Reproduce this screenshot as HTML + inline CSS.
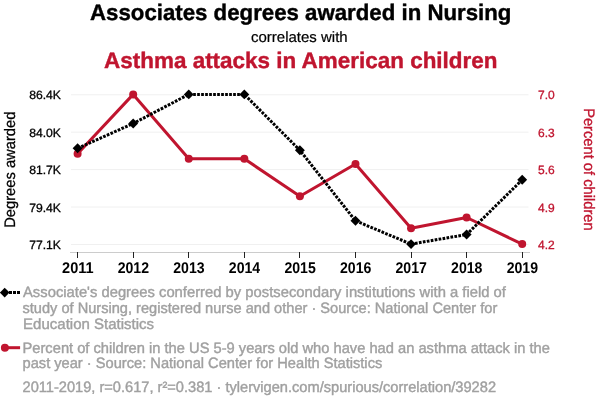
<!DOCTYPE html>
<html><head><meta charset="utf-8"><style>
html,body{margin:0;padding:0;background:#fff;width:600px;height:408px;overflow:hidden}
svg{display:block;will-change:transform}
text{font-family:"Liberation Sans", sans-serif;text-rendering:geometricPrecision}
</style></head><body>
<svg width="600" height="408" viewBox="0 0 600 408">
<rect width="600" height="408" fill="#fff"/>
<line x1="71" x2="528.5" y1="94.75" y2="94.75" stroke="#f0f0f0" stroke-width="1"/>
<line x1="71" x2="528.5" y1="132.17" y2="132.17" stroke="#f0f0f0" stroke-width="1"/>
<line x1="71" x2="528.5" y1="169.60" y2="169.60" stroke="#f0f0f0" stroke-width="1"/>
<line x1="71" x2="528.5" y1="207.03" y2="207.03" stroke="#f0f0f0" stroke-width="1"/>
<line x1="71" x2="528.5" y1="244.45" y2="244.45" stroke="#f0f0f0" stroke-width="1"/>
<line x1="70" x2="530" y1="252.5" y2="252.5" stroke="#cccccc" stroke-width="1"/>
<line x1="77.50" x2="77.50" y1="252" y2="258" stroke="#222" stroke-width="1"/>
<text x="62.06" y="273.00" font-size="15.5" font-weight="bold" textLength="31.54" lengthAdjust="spacingAndGlyphs" fill="#000" >2011</text>
<line x1="133.50" x2="133.50" y1="252" y2="258" stroke="#222" stroke-width="1"/>
<text x="117.67" y="273.00" font-size="15.5" font-weight="bold" textLength="31.35" lengthAdjust="spacingAndGlyphs" fill="#000" >2012</text>
<line x1="188.50" x2="188.50" y1="252" y2="258" stroke="#222" stroke-width="1"/>
<text x="173.24" y="273.00" font-size="15.5" font-weight="bold" textLength="31.35" lengthAdjust="spacingAndGlyphs" fill="#000" >2013</text>
<line x1="244.50" x2="244.50" y1="252" y2="258" stroke="#222" stroke-width="1"/>
<text x="228.82" y="273.00" font-size="15.5" font-weight="bold" textLength="31.35" lengthAdjust="spacingAndGlyphs" fill="#000" >2014</text>
<line x1="299.50" x2="299.50" y1="252" y2="258" stroke="#222" stroke-width="1"/>
<text x="284.39" y="273.00" font-size="15.5" font-weight="bold" textLength="31.35" lengthAdjust="spacingAndGlyphs" fill="#000" >2015</text>
<line x1="355.50" x2="355.50" y1="252" y2="258" stroke="#222" stroke-width="1"/>
<text x="339.97" y="273.00" font-size="15.5" font-weight="bold" textLength="31.35" lengthAdjust="spacingAndGlyphs" fill="#000" >2016</text>
<line x1="411.50" x2="411.50" y1="252" y2="258" stroke="#222" stroke-width="1"/>
<text x="395.54" y="273.00" font-size="15.5" font-weight="bold" textLength="31.35" lengthAdjust="spacingAndGlyphs" fill="#000" >2017</text>
<line x1="466.50" x2="466.50" y1="252" y2="258" stroke="#222" stroke-width="1"/>
<text x="451.12" y="273.00" font-size="15.5" font-weight="bold" textLength="31.35" lengthAdjust="spacingAndGlyphs" fill="#000" >2018</text>
<line x1="522.50" x2="522.50" y1="252" y2="258" stroke="#222" stroke-width="1"/>
<text x="506.69" y="273.00" font-size="15.5" font-weight="bold" textLength="31.35" lengthAdjust="spacingAndGlyphs" fill="#000" >2019</text>
<text x="61" y="98.70" font-size="12" text-anchor="end" fill="#000" textLength="31.8" lengthAdjust="spacingAndGlyphs" stroke="#000" stroke-width="0.3">86.4K</text>
<text x="538" y="98.70" font-size="12" text-anchor="start" fill="#c0152f" stroke="#c0152f" stroke-width="0.3">7.0</text>
<text x="61" y="136.92" font-size="12" text-anchor="end" fill="#000" textLength="31.8" lengthAdjust="spacingAndGlyphs" stroke="#000" stroke-width="0.3">84.0K</text>
<text x="538" y="136.92" font-size="12" text-anchor="start" fill="#c0152f" stroke="#c0152f" stroke-width="0.3">6.3</text>
<text x="61" y="173.55" font-size="12" text-anchor="end" fill="#000" textLength="31.8" lengthAdjust="spacingAndGlyphs" stroke="#000" stroke-width="0.3">81.7K</text>
<text x="538" y="173.55" font-size="12" text-anchor="start" fill="#c0152f" stroke="#c0152f" stroke-width="0.3">5.6</text>
<text x="61" y="211.58" font-size="12" text-anchor="end" fill="#000" textLength="31.8" lengthAdjust="spacingAndGlyphs" stroke="#000" stroke-width="0.3">79.4K</text>
<text x="538" y="211.58" font-size="12" text-anchor="start" fill="#c0152f" stroke="#c0152f" stroke-width="0.3">4.9</text>
<text x="61" y="248.60" font-size="12" text-anchor="end" fill="#000" textLength="31.8" lengthAdjust="spacingAndGlyphs" stroke="#000" stroke-width="0.3">77.1K</text>
<text x="538" y="248.60" font-size="12" text-anchor="start" fill="#c0152f" stroke="#c0152f" stroke-width="0.3">4.2</text>
<text transform="translate(14.70,227.77) rotate(-90)" x="0" y="0" font-size="15.2" textLength="116.13" lengthAdjust="spacingAndGlyphs" fill="#000" stroke="#000" stroke-width="0.3">Degrees awarded</text>
<text transform="translate(584.10,108.13) rotate(90)" x="0" y="0" font-size="15.2" textLength="122.49" lengthAdjust="spacingAndGlyphs" fill="#c0152f" stroke="#c0152f" stroke-width="0.3">Percent of children</text>
<polyline points="77.60,153.70 133.18,94.40 188.75,158.80 244.33,158.80 299.90,196.30 355.48,164.05 411.05,228.30 466.62,217.50 522.20,244.10" fill="none" stroke="#c0152f" stroke-width="3" stroke-linejoin="round"/>
<circle cx="77.60" cy="153.70" r="4" fill="#c0152f"/>
<circle cx="133.18" cy="94.40" r="4" fill="#c0152f"/>
<circle cx="188.75" cy="158.80" r="4" fill="#c0152f"/>
<circle cx="244.33" cy="158.80" r="4" fill="#c0152f"/>
<circle cx="299.90" cy="196.30" r="4" fill="#c0152f"/>
<circle cx="355.48" cy="164.05" r="4" fill="#c0152f"/>
<circle cx="411.05" cy="228.30" r="4" fill="#c0152f"/>
<circle cx="466.62" cy="217.50" r="4" fill="#c0152f"/>
<circle cx="522.20" cy="244.10" r="4" fill="#c0152f"/>
<polyline points="77.60,148.30 133.18,123.50 188.75,94.40 244.33,94.40 299.90,150.30 355.48,220.80 411.05,244.10 466.62,234.50 522.20,179.80" fill="none" stroke="#000" stroke-width="3" stroke-dasharray="2.7 1.3"/>
<rect x="74.10" y="144.80" width="7" height="7" fill="#000" transform="rotate(45 77.60 148.30)"/>
<rect x="129.68" y="120.00" width="7" height="7" fill="#000" transform="rotate(45 133.18 123.50)"/>
<rect x="185.25" y="90.90" width="7" height="7" fill="#000" transform="rotate(45 188.75 94.40)"/>
<rect x="240.83" y="90.90" width="7" height="7" fill="#000" transform="rotate(45 244.33 94.40)"/>
<rect x="296.40" y="146.80" width="7" height="7" fill="#000" transform="rotate(45 299.90 150.30)"/>
<rect x="351.98" y="217.30" width="7" height="7" fill="#000" transform="rotate(45 355.48 220.80)"/>
<rect x="407.55" y="240.60" width="7" height="7" fill="#000" transform="rotate(45 411.05 244.10)"/>
<rect x="463.12" y="231.00" width="7" height="7" fill="#000" transform="rotate(45 466.62 234.50)"/>
<rect x="518.70" y="176.30" width="7" height="7" fill="#000" transform="rotate(45 522.20 179.80)"/>
<text x="90.01" y="19.85" font-size="22.4" font-weight="bold" textLength="421.43" lengthAdjust="spacingAndGlyphs" fill="#000" stroke="#000" stroke-width="0.4">Associates degrees awarded in Nursing</text>
<text x="250.99" y="41.50" font-size="14.8" font-weight="normal" textLength="96.67" lengthAdjust="spacingAndGlyphs" fill="#000" stroke="#000" stroke-width="0.2">correlates with</text>
<text x="104.10" y="67.80" font-size="22.4" font-weight="bold" textLength="393.40" lengthAdjust="spacingAndGlyphs" fill="#c0152f" stroke="#c0152f" stroke-width="0.4">Asthma attacks in American children</text>
<line x1="5" x2="20" y1="292.6" y2="292.6" stroke="#000" stroke-width="3" stroke-dasharray="3 1"/>
<rect x="1.3" y="289.2" width="6.8" height="6.8" fill="#000" transform="rotate(45 4.7 292.6)"/>
<text x="23.00" y="296.60" font-size="15.0" font-weight="normal" textLength="482.90" lengthAdjust="spacingAndGlyphs" fill="#a0a0a0" stroke="#a0a0a0" stroke-width="0.4">Associate's degrees conferred by postsecondary institutions with a field of</text>
<text x="22.43" y="312.50" font-size="15.0" font-weight="normal" textLength="474.90" lengthAdjust="spacingAndGlyphs" fill="#a0a0a0" stroke="#a0a0a0" stroke-width="0.4">study of Nursing, registered nurse and other · Source: National Center for</text>
<text x="23.10" y="328.50" font-size="15.0" font-weight="normal" textLength="130.91" lengthAdjust="spacingAndGlyphs" fill="#a0a0a0" stroke="#a0a0a0" stroke-width="0.4">Education Statistics</text>
<text x="22.52" y="352.60" font-size="15.0" font-weight="normal" textLength="527.32" lengthAdjust="spacingAndGlyphs" fill="#a0a0a0" stroke="#a0a0a0" stroke-width="0.4">Percent of children in the US 5-9 years old who have had an asthma attack in the</text>
<text x="22.52" y="368.30" font-size="15.0" font-weight="normal" textLength="359.76" lengthAdjust="spacingAndGlyphs" fill="#a0a0a0" stroke="#a0a0a0" stroke-width="0.4">past year · Source: National Center for Health Statistics</text>
<text x="22.53" y="391.50" font-size="15.0" font-weight="normal" textLength="473.51" lengthAdjust="spacingAndGlyphs" fill="#a0a0a0" stroke="#a0a0a0" stroke-width="0.4">2011-2019, r=0.617, r²=0.381 · tylervigen.com/spurious/correlation/39282</text>
<line x1="5" x2="20.1" y1="347.7" y2="347.7" stroke="#c0152f" stroke-width="3"/>
<circle cx="4.9" cy="347.7" r="4" fill="#c0152f"/>
</svg>
</body></html>
